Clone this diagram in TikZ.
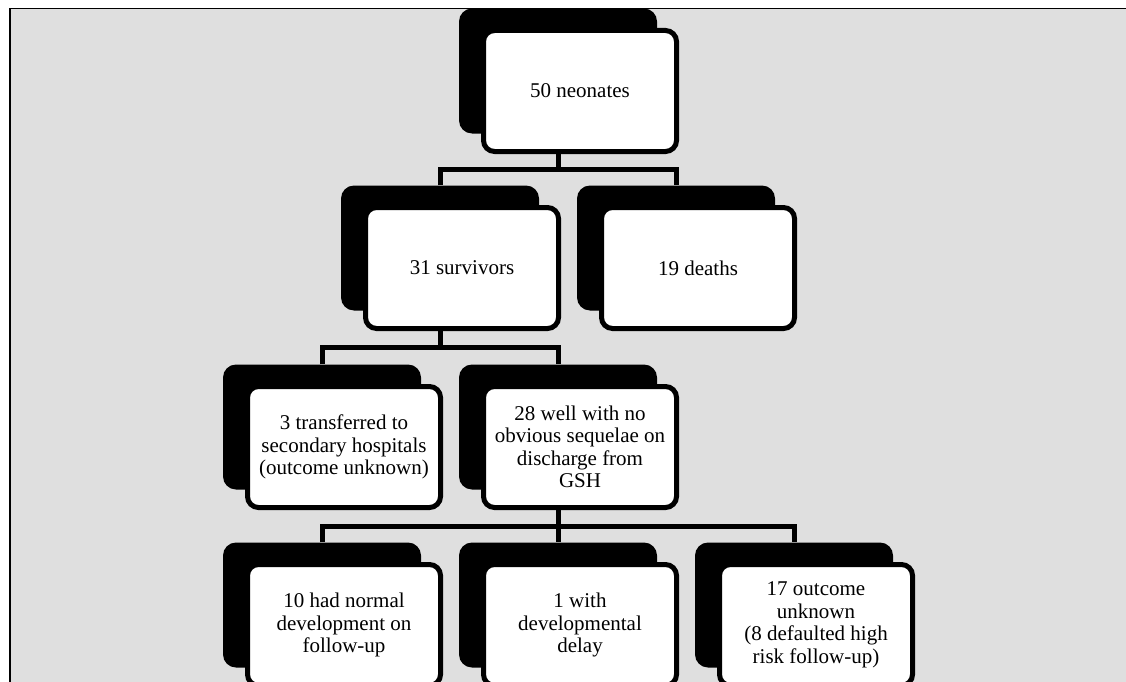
\documentclass[tikz,border=0pt]{standalone}
\usepackage{fontspec}
\setmainfont{Liberation Serif}
\usetikzlibrary{calc}
\pgfdeclarelayer{back}
\pgfdeclarelayer{links}
\pgfsetlayers{back,links,main}
\definecolor{panel}{RGB}{223,223,223}

\begin{document}
\begin{tikzpicture}[x=1pt,y=-1pt,
  shadowbox/.style={rectangle, fill=black, rounded corners=13pt,
    minimum width=198pt, minimum height=125pt, inner sep=0pt},
  cardbox/.style={rectangle, draw=black, fill=white, line width=5pt,
    rounded corners=11pt, minimum width=193pt, minimum height=121pt,
    inner sep=2pt, align=center, font=\fontsize{21}{22.5}\selectfont},
  link/.style={line width=5pt, draw=black, line join=miter}]

\useasboundingbox (0,0) rectangle (1126,682);

% panel behind the chart
\begin{pgfonlayer}{back}
  \fill[panel] (9,8) rectangle (1140,700);
  \draw[line width=1.5pt] (9.75,700) -- (9.75,8.75) -- (1140,8.75);
\end{pgfonlayer}

% level 0
\node[shadowbox] (s0) at (558,71) {};
\node[cardbox]   (c0) at (580,91) {50 neonates};

% level 1
\node[shadowbox] (s1) at (440,248) {};
\node[cardbox]   (c1) at (462,268) {31 survivors};
\node[shadowbox] (s2) at (676,248) {};
\node[cardbox]   (c2) at (698,268) {19 deaths};

% level 2
\node[shadowbox] (s3) at (322,427) {};
\node[cardbox]   (c3) at (344,447) {3 transferred to\\secondary hospitals\\(outcome unknown)};
\node[shadowbox] (s4) at (558,427) {};
\node[cardbox]   (c4) at (580,447) {28 well with no\\obvious sequelae on\\discharge from\\GSH};

% level 3
\node[shadowbox] (s5) at (322,605) {};
\node[cardbox]   (c5) at (344,625) {10 had normal\\development on\\follow-up};
\node[shadowbox] (s6) at (558,605) {};
\node[cardbox]   (c6) at (580,625) {1 with\\developmental\\delay};
\node[shadowbox] (s7) at (794,605) {};
\node[cardbox]   (c7) at (816,625) {17 outcome\\unknown\\(8 defaulted high\\risk follow-up)};

% connectors
\begin{pgfonlayer}{links}
  \coordinate (t0) at (s0.south |- c0.south);
  \coordinate (u0) at (s0.south |- s1.north);
  \coordinate (j0) at ($(t0)!0.5!(u0)$);
  \draw[link] (s0.south |- c0.center) -- (j0);
  \draw[link] (s1.north) |- (j0) -| (s2.north);

  \coordinate (t1) at (s1.south |- c1.south);
  \coordinate (u1) at (s1.south |- s3.north);
  \coordinate (j1) at ($(t1)!0.5!(u1)$);
  \draw[link] (s1.south |- c1.center) -- (j1);
  \draw[link] (s3.north) |- (j1) -| (s4.north);

  \coordinate (t2) at (s4.south |- c4.south);
  \coordinate (u2) at (s4.south |- s6.north);
  \coordinate (j2) at ($(t2)!0.5!(u2)$);
  \draw[link] (s4.south |- c4.center) -- (s6.north);
  \draw[link] (s5.north) |- (j2) -| (s7.north);
\end{pgfonlayer}
\end{tikzpicture}
\end{document}
